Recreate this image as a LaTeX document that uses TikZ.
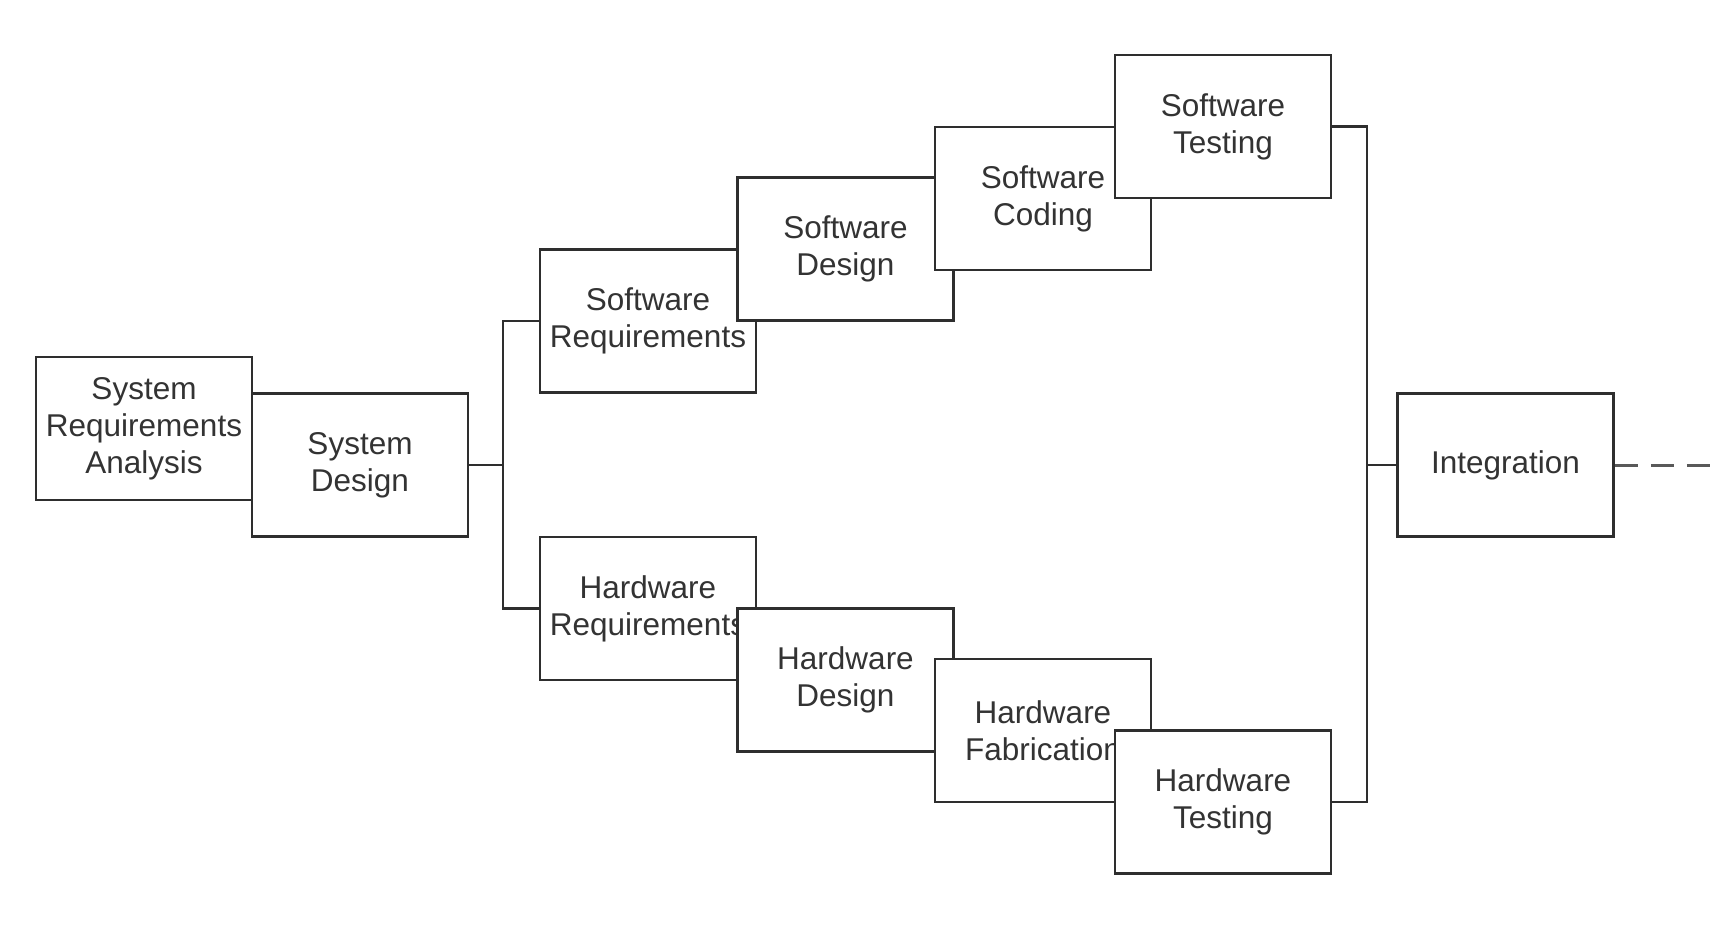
\documentclass[tikz,border=0pt]{standalone}
\usepackage{fontspec}
\setmainfont{Liberation Sans}
\definecolor{linec}{HTML}{2E2E2E}
\definecolor{textc}{HTML}{333333}
\begin{document}
\begin{tikzpicture}[x=1pt,y=-1pt,
  box/.style={draw=linec, line width=2.6pt, fill=white, minimum width=216pt,
    minimum height=143pt, inner sep=0pt, align=center, text=textc,
    font=\fontsize{31.5}{37}\selectfont},
  conn/.style={draw=linec, line width=2.2pt},
  dashconn/.style={draw=black!65, line width=3pt, dash pattern=on 23pt off 13pt}]
\useasboundingbox (0,0) rectangle (1730,924);
\node[box] (sra) at (144,428.5) {System\\Requirements\\Analysis};
\node[box] (sd) at (360,465) {System\\Design};
\node[box] (swr) at (648,321) {Software\\Requirements};
\node[box] (swd) at (845.5,249) {Software\\Design};
\node[box] (swc) at (1043,198.5) {Software\\Coding};
\node[box] (swt) at (1223,126.5) {Software\\Testing};
\node[box] (hwr) at (648,608.5) {Hardware\\Requirements};
\node[box] (hwd) at (845.5,680) {Hardware\\Design};
\node[box] (hwf) at (1043,730.5) {Hardware\\Fabrication};
\node[box] (hwt) at (1223,802) {Hardware\\Testing};
\node[box] (int) at (1505.5,465) {Integration};
\coordinate (split) at (503,465);
\coordinate (join) at (1367,465);
\coordinate (tail) at (1710,465);
\draw[conn] (sd.east) -- (split);
\draw[conn] (swr.west) -| (split) |- (hwr.west);
\draw[conn] (swt.east) -| (join) |- (hwt.east);
\draw[conn] (join) -- (int.west);
\draw[dashconn] (int.east) -- (tail);
\end{tikzpicture}
\end{document}
